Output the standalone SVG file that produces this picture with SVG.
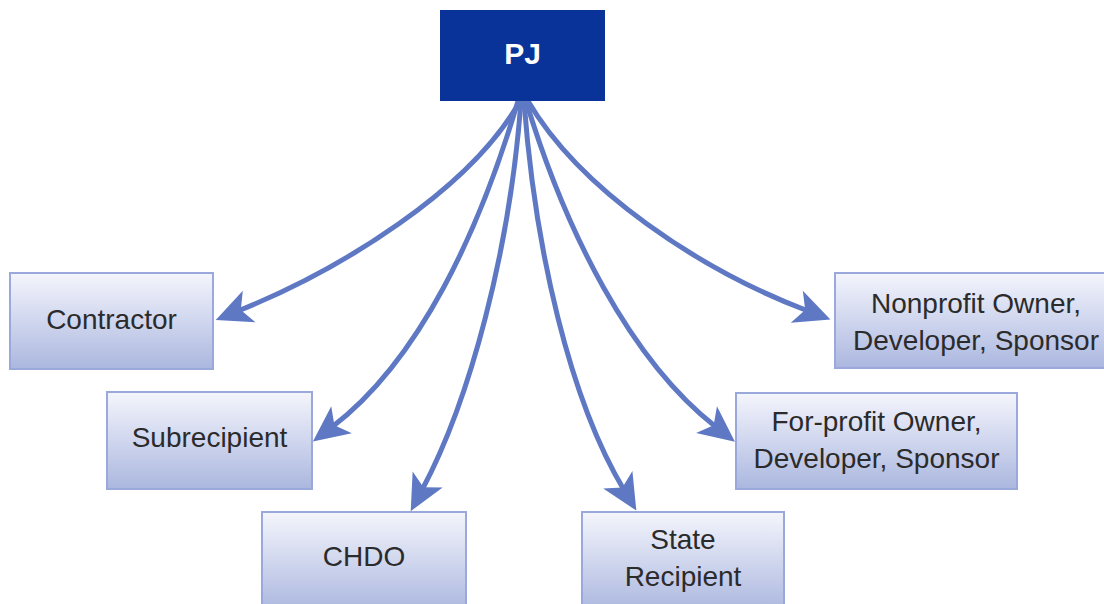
<svg xmlns="http://www.w3.org/2000/svg" width="1104" height="604" viewBox="0 0 1104 604">
  <style>
    .box { fill: url(#boxGrad); stroke: #9aa8dc; stroke-width: 2; }
    .lbl { font-family: "Liberation Sans", Arial, sans-serif; font-size: 28px; fill: #2b2b2b; text-anchor: middle; }
    .edge { fill: none; stroke: #5f78c3; stroke-width: 5; marker-end: url(#arrow); }
  </style>
  <defs>
    <linearGradient id="boxGrad" x1="0" y1="0" x2="0" y2="1">
      <stop offset="0" stop-color="#f4f5fc"/>
      <stop offset="1" stop-color="#abb7df"/>
    </linearGradient>
    <marker id="arrow" markerUnits="userSpaceOnUse" markerWidth="80" markerHeight="80" viewBox="-40 -40 80 80" refX="0" refY="0" orient="auto" overflow="visible">
      <path d="M24,0 L-12,-17 L-3,0 L-12,17 Z" fill="#5f78c3"/>
    </marker>
  </defs>
  <rect width="1104" height="604" fill="#ffffff"/>

  <g id="connectors">
    <path class="edge" d="M520,101 C470,190 340,270 238,311"/>
    <path class="edge" d="M518,101 C480,230 420,360 332,427"/>
    <path class="edge" d="M521,101 C510,250 470,400 422,490"/>
    <path class="edge" d="M524,101 C535,250 570,400 624,490"/>
    <path class="edge" d="M526,101 C565,230 630,360 716,427"/>
    <path class="edge" d="M528,101 C580,190 700,270 808,311"/>
  </g>

  <g id="pj">
    <rect x="440" y="10" width="165" height="91" fill="#0a3399"/>
    <text x="522.5" y="64" font-family="'Liberation Sans', Arial, sans-serif" font-size="30" font-weight="bold" fill="#ffffff" text-anchor="middle">PJ</text>
  </g>

  <g id="contractor">
    <rect class="box" x="10" y="273" width="203" height="96"/>
    <text class="lbl" x="111.5" y="329">Contractor</text>
  </g>

  <g id="subrecipient">
    <rect class="box" x="107" y="392" width="205" height="97"/>
    <text class="lbl" x="209.5" y="447">Subrecipient</text>
  </g>

  <g id="chdo">
    <rect class="box" x="262" y="512" width="204" height="100"/>
    <text class="lbl" x="364" y="566">CHDO</text>
  </g>

  <g id="state-recipient">
    <rect class="box" x="582" y="512" width="202" height="100"/>
    <text class="lbl" x="683" y="549">State</text>
    <text class="lbl" x="683" y="586">Recipient</text>
  </g>

  <g id="forprofit">
    <rect class="box" x="736" y="393" width="281" height="96"/>
    <text class="lbl" x="876.5" y="431">For-profit Owner,</text>
    <text class="lbl" x="876.5" y="468">Developer, Sponsor</text>
  </g>

  <g id="nonprofit">
    <rect class="box" x="835" y="273" width="282" height="95"/>
    <text class="lbl" x="976" y="313">Nonprofit Owner,</text>
    <text class="lbl" x="976" y="350">Developer, Sponsor</text>
  </g>
</svg>
